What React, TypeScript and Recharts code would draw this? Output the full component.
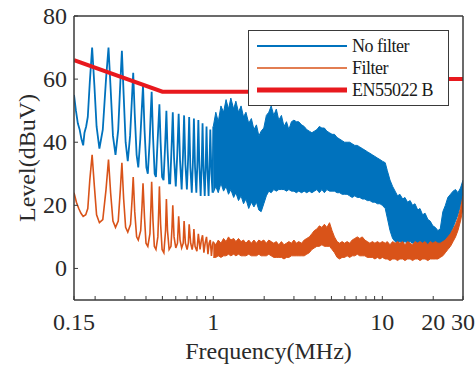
import { Area, ComposedChart, Label, Legend, Line, XAxis, YAxis } from 'recharts';

const xTicks = [0.15, 0.2, 0.3, 0.4, 0.5, 0.6, 0.7, 0.8, 0.9, 1, 2, 3, 4, 5, 6, 7, 8, 9, 10, 20, 30];
const xTickLabels = [0.15, 1, 10, 20, 30];
const yTicks = [0, 20, 40, 60, 80];

// EN55022 class B limit, [MHz, dBuV]
const limitLine: [number, number][] = [[0.15, 66], [0.5, 56], [5, 56], [5, 60], [30, 60]];

// low-frequency harmonics, [MHz, dBuV]
const noFilterPeaks: [number, number][] = [
  [0.15, 55], [0.154, 50], [0.158, 46], [0.162, 44], [0.166, 41], [0.17, 39], [0.173, 43], [0.177, 45], [0.181, 48], [0.186, 59],
  [0.192, 70], [0.198, 58], [0.204, 45], [0.212, 38], [0.222, 44], [0.232, 60], [0.24, 70], [0.247, 57], [0.255, 42], [0.264, 36],
  [0.274, 44], [0.282, 59], [0.288, 69], [0.295, 55], [0.303, 40], [0.312, 34], [0.322, 42], [0.331, 55], [0.336, 62], [0.343, 49],
  [0.352, 36], [0.36, 32], [0.37, 41], [0.378, 51], [0.384, 58], [0.392, 44], [0.402, 32], [0.41, 30], [0.42, 40], [0.427, 50],
  [0.432, 56], [0.44, 42], [0.45, 30], [0.458, 29], [0.468, 40], [0.475, 47], [0.48, 52], [0.488, 40], [0.498, 29], [0.508, 28],
  [0.518, 38], [0.524, 45], [0.528, 50], [0.536, 38], [0.548, 27], [0.556, 27], [0.568, 40], [0.576, 49.5], [0.586, 35], [0.6, 26],
  [0.612, 36], [0.624, 49], [0.636, 34], [0.65, 25], [0.662, 36], [0.672, 48.5], [0.684, 33], [0.698, 25], [0.71, 35], [0.72, 48],
  [0.732, 32], [0.746, 24], [0.758, 34], [0.768, 47.5], [0.78, 32], [0.794, 24], [0.806, 34], [0.816, 47], [0.828, 32], [0.842, 23],
  [0.854, 33], [0.864, 46], [0.876, 31], [0.89, 23], [0.902, 33], [0.912, 45], [0.924, 31], [0.938, 23], [0.95, 33], [0.96, 44],
  [0.975, 30], [0.99, 24], [1.0, 45],
];

const filterPeaks: [number, number][] = [
  [0.15, 24], [0.155, 21], [0.16, 19], [0.165, 17.5], [0.17, 16.5], [0.176, 17], [0.181, 19], [0.186, 28], [0.192, 36], [0.198, 26],
  [0.204, 17], [0.212, 14.5], [0.222, 15.5], [0.232, 25], [0.24, 34.5], [0.247, 24], [0.255, 15], [0.264, 13], [0.274, 15], [0.282, 25],
  [0.288, 33.5], [0.295, 22], [0.303, 13], [0.312, 11.5], [0.324, 14], [0.331, 22], [0.336, 29], [0.343, 18], [0.352, 10], [0.36, 9],
  [0.372, 12], [0.379, 20], [0.384, 27], [0.392, 16], [0.4, 8], [0.41, 7], [0.422, 11], [0.428, 20], [0.432, 27.5], [0.44, 15],
  [0.448, 7], [0.458, 6], [0.47, 10], [0.476, 19], [0.48, 26], [0.488, 14], [0.498, 6], [0.51, 5], [0.522, 12], [0.528, 22],
  [0.536, 12], [0.548, 6], [0.562, 7], [0.57, 13], [0.576, 20], [0.586, 10], [0.6, 6.5], [0.614, 8], [0.624, 16.5], [0.636, 9],
  [0.65, 6.5], [0.664, 8], [0.672, 15], [0.684, 8], [0.7, 6], [0.712, 8], [0.72, 14], [0.735, 8], [0.75, 6], [0.76, 8],
  [0.768, 12.5], [0.78, 7], [0.8, 5.5], [0.816, 11], [0.835, 6], [0.85, 9], [0.864, 10.5], [0.88, 5], [0.895, 8], [0.912, 10],
  [0.93, 4.5], [0.945, 8], [0.96, 9], [0.975, 4], [0.99, 7.5], [1.0, 8.5],
];

// dense broadband part, [MHz, low, high] in dBuV
const noFilterBand: [number, number, number][] = [
  [1.0, 24, 45], [1.035, 26, 49.5], [1.07, 24, 46.5], [1.11, 27, 51.5], [1.15, 24.5, 49.5], [1.19, 26, 53.5], [1.23, 23.5, 50.5], [1.27, 25, 54], [1.32, 22.5, 50.5], [1.36, 24, 53],
  [1.41, 21.5, 49.5], [1.46, 23, 51.5], [1.51, 20.5, 48], [1.56, 22, 49.5], [1.62, 19, 46], [1.68, 21, 47.5], [1.74, 19.5, 44], [1.8, 21, 45.5], [1.86, 18.5, 42], [1.92, 18, 43.5],
  [1.99, 20.5, 44.5], [2.06, 23, 48.5], [2.13, 24.5, 49.5], [2.2, 24, 51.5], [2.28, 25, 48.5], [2.36, 24.5, 50.5], [2.44, 25, 47], [2.53, 25, 48.5], [2.62, 25, 45], [2.71, 24.5, 46.5],
  [2.8, 25, 44], [2.9, 24.5, 46.5], [3.0, 24.5, 47], [3.1, 24, 46.5], [3.2, 24.5, 46.5], [3.33, 24, 45.5], [3.45, 24.5, 45], [3.57, 24, 44], [3.7, 24.5, 43.5], [3.83, 24, 43],
  [3.96, 24.5, 43.5], [4.1, 25, 44], [4.24, 24, 45], [4.39, 25, 44.5], [4.54, 24, 44.5], [4.7, 25, 43.5], [4.87, 24.5, 43], [5.04, 24.5, 42.5], [5.21, 24.5, 42.5], [5.4, 24, 41.5],
  [5.59, 24, 41], [5.78, 23.5, 40.5], [5.98, 23.5, 40], [6.19, 23.5, 40], [6.41, 23, 40], [6.63, 22.5, 39.5], [6.87, 23, 39], [7.11, 22.5, 39], [7.35, 22.5, 38.5], [7.61, 22, 38],
  [7.88, 22, 37.5], [8.15, 21.5, 37], [8.44, 21.5, 36.5], [8.73, 21, 36], [9.04, 21, 35.5], [9.35, 20.5, 35], [9.68, 20.5, 34.5], [10.0, 20, 34], [10.4, 19, 33.5], [10.7, 16, 31],
  [11.1, 12, 28], [11.5, 9.5, 26], [11.9, 8.5, 24.5], [12.3, 8, 23], [12.7, 8.5, 23.5], [13.2, 8, 22], [13.6, 8.5, 22.5], [14.1, 8, 21], [14.6, 8.5, 21.5], [15.1, 8, 20],
  [15.6, 8.5, 20.5], [16.2, 8, 18.5], [16.7, 8.5, 19], [17.3, 8, 17], [17.9, 8, 17.5], [18.6, 7.5, 15.5], [19.2, 8, 15], [19.9, 7.5, 13.5], [20.6, 7, 13], [21.3, 7, 12],
  [22.0, 7.5, 12.5], [22.8, 8, 18], [23.6, 9, 20], [24.4, 9.5, 22.5], [25.3, 11, 23.5], [26.2, 13, 24.5], [27.1, 15, 25], [28.0, 17, 24], [29.0, 20, 25.5], [30.0, 22, 28],
];

const filterBand: [number, number, number][] = [
  [1.0, 3.5, 8.5], [1.035, 3.5, 7.5], [1.07, 4, 9], [1.11, 3.5, 8], [1.15, 4, 9.5], [1.19, 4, 8.5], [1.23, 4.5, 10], [1.27, 4, 9], [1.32, 4.5, 9.5], [1.36, 4, 8.5],
  [1.41, 4.5, 9.5], [1.46, 4, 8.5], [1.51, 4, 9], [1.56, 4, 8], [1.62, 4.5, 9], [1.68, 4, 8], [1.74, 4, 9], [1.8, 4, 8], [1.86, 4.5, 9], [1.92, 4, 8.5],
  [1.99, 4, 9], [2.06, 4, 8], [2.13, 4.5, 9], [2.2, 4, 8.5], [2.28, 3.5, 8], [2.36, 3.5, 8.5], [2.44, 3.5, 7.5], [2.53, 3.5, 8.5], [2.62, 3, 7.5], [2.71, 3.5, 8],
  [2.8, 3.5, 8.5], [2.9, 4, 8], [3.0, 4, 9], [3.1, 4, 8], [3.2, 4, 8.5], [3.33, 4, 8], [3.45, 4, 9], [3.57, 4.5, 9.5], [3.7, 5, 10], [3.83, 6, 11],
  [3.96, 6.5, 12], [4.1, 7, 12.5], [4.24, 7, 13.5], [4.39, 7.5, 13], [4.54, 7, 14], [4.7, 7, 13], [4.87, 7, 14.5], [5.04, 6, 12], [5.21, 5, 10], [5.4, 3.5, 8.5],
  [5.59, 3, 8], [5.78, 3.5, 8.5], [5.98, 3.5, 8], [6.19, 4, 8.5], [6.41, 3.5, 8], [6.63, 4, 9], [6.87, 4, 9.5], [7.11, 4.5, 10], [7.35, 4, 9.5], [7.61, 4, 10],
  [7.88, 4, 9], [8.15, 3.5, 8.5], [8.44, 3.5, 8], [8.73, 3.5, 8.5], [9.04, 3, 8], [9.35, 3.5, 8.5], [9.68, 3, 8], [10.0, 3.5, 8.5], [10.4, 3, 8], [10.7, 3, 8.5],
  [11.1, 2.5, 7.5], [11.5, 3, 8.5], [11.9, 3, 8], [12.3, 2.5, 8.5], [12.7, 3, 8], [13.2, 3, 8.5], [13.6, 2.5, 7.5], [14.1, 3, 8.5], [14.6, 3, 8], [15.1, 2.5, 7.5],
  [15.6, 3, 8.5], [16.2, 3, 8], [16.7, 2.5, 8.5], [17.3, 3, 8], [17.9, 3, 8.5], [18.6, 2.5, 7.5], [19.2, 3, 8.5], [19.9, 3, 8], [20.6, 3, 8.5], [21.3, 3, 8],
  [22.0, 3.5, 8], [22.8, 4, 8.5], [23.6, 5, 9], [24.4, 6, 10], [25.3, 7, 11], [26.2, 8.5, 12.5], [27.1, 10, 14], [28.0, 12, 16], [29.0, 15, 19], [30.0, 19, 23],
];

const legendNames = ['No filter', 'Filter', 'EN55022 B'];

const BLUE = '#0072BD';
const ORANGE = '#D95319';
const RED = '#E8191E';
const AXIS = '#3a3a3a';
const TEXT = '#2a2a2a';
const FONT = 'Liberation Serif, Times New Roman, serif';

const toPoints = (rows: [number, number][]) => rows.map(([f, v]) => ({ f, v }));
const toBand = (rows: [number, number, number][]) => rows.map(([f, lo, hi]) => ({ f, range: [lo, hi] }));

const textStyle = { fontFamily: FONT, fontSize: 24, fill: TEXT };

function FreqTick({ x, y, payload }: any) {
  if (!xTickLabels.includes(payload.value)) return null;
  return (
    <text x={x} y={y} dy={17} textAnchor="middle" style={textStyle}>
      {payload.value}
    </text>
  );
}

function LevelTick({ x, y, payload }: any) {
  return (
    <text x={x} y={y} dy={8} textAnchor="end" style={textStyle}>
      {payload.value}
    </text>
  );
}

function FreqTitle({ viewBox }: any) {
  return (
    <text x={viewBox.x + viewBox.width / 2} y={viewBox.y + viewBox.height - 8} textAnchor="middle" style={textStyle}>
      Frequency(MHz)
    </text>
  );
}

function LevelTitle({ viewBox }: any) {
  const cx = 27;
  const cy = viewBox.y + viewBox.height / 2;
  return (
    <text x={cx} y={cy} dy={8} textAnchor="middle" transform={`rotate(-90 ${cx} ${cy})`} style={textStyle}>
      Level(dBuV)
    </text>
  );
}

function LegendBox() {
  const styles = [
    { color: BLUE, width: 2 },
    { color: ORANGE, width: 1.5 },
    { color: RED, width: 5 },
  ];
  return (
    <div
      style={{
        boxSizing: 'border-box',
        width: 201,
        height: 76,
        border: `1px solid ${AXIS}`,
        background: '#fff',
        padding: '4px 0 0 8px',
        fontFamily: FONT,
        fontSize: 18,
        color: '#1a1a1a',
      }}
    >
      {legendNames.map((name, i) => (
        <div key={name} style={{ display: 'flex', alignItems: 'center', height: 22 }}>
          <svg width={95} height={22}>
            <line x1={0} x2={90} y1={11} y2={11} stroke={styles[i].color} strokeWidth={styles[i].width} />
          </svg>
          <span style={{ lineHeight: '22px', letterSpacing: -0.5 }}>{name}</span>
        </div>
      ))}
    </div>
  );
}

export default function App() {
  const axisLine = { stroke: AXIS, strokeWidth: 1.5 };

  return (
    <div style={{ position: 'absolute', left: 0, top: 0, width: 476, height: 367, background: '#fff' }}>
      <ComposedChart width={476} height={367} margin={{ top: 0, right: 0, bottom: 0, left: 0 }}>
        <XAxis
          xAxisId="b"
          dataKey="f"
          type="number"
          scale="log"
          domain={[0.15, 30]}
          allowDataOverflow
          ticks={xTicks}
          interval={0}
          tick={<FreqTick />}
          tickSize={-4}
          tickMargin={17}
          axisLine={axisLine}
          tickLine={{ stroke: AXIS }}
          height={67}
        >
          <Label content={<FreqTitle />} />
        </XAxis>
        <XAxis
          xAxisId="t"
          orientation="top"
          type="number"
          scale="log"
          domain={[0.15, 30]}
          allowDataOverflow
          ticks={xTicks}
          interval={0}
          tick={false}
          tickSize={-4}
          axisLine={axisLine}
          tickLine={{ stroke: AXIS }}
          height={16}
        />
        <YAxis
          yAxisId="l"
          type="number"
          domain={[-10, 80]}
          allowDataOverflow
          ticks={yTicks}
          interval={0}
          tick={<LevelTick />}
          tickSize={-4}
          tickMargin={11}
          axisLine={axisLine}
          tickLine={{ stroke: AXIS }}
          width={74}
        >
          <Label content={<LevelTitle />} />
        </YAxis>
        <YAxis
          yAxisId="r"
          orientation="right"
          type="number"
          domain={[-10, 80]}
          allowDataOverflow
          ticks={yTicks}
          interval={0}
          tick={false}
          tickSize={-4}
          axisLine={axisLine}
          tickLine={{ stroke: AXIS }}
          width={13}
        />

        <Area
          xAxisId="b"
          yAxisId="l"
          data={toBand(noFilterBand)}
          dataKey="range"
          type="linear"
          stroke={BLUE}
          strokeWidth={1}
          fill={BLUE}
          fillOpacity={1}
          dot={false}
          activeDot={false}
          isAnimationActive={false}
        />
        <Line
          xAxisId="b"
          yAxisId="l"
          data={toPoints(noFilterPeaks)}
          dataKey="v"
          type="linear"
          stroke={BLUE}
          strokeWidth={1.8}
          dot={false}
          activeDot={false}
          isAnimationActive={false}
        />
        <Area
          xAxisId="b"
          yAxisId="l"
          data={toBand(filterBand)}
          dataKey="range"
          type="linear"
          stroke={ORANGE}
          strokeWidth={1}
          fill={ORANGE}
          fillOpacity={1}
          dot={false}
          activeDot={false}
          isAnimationActive={false}
        />
        <Line
          xAxisId="b"
          yAxisId="l"
          data={toPoints(filterPeaks)}
          dataKey="v"
          type="linear"
          stroke={ORANGE}
          strokeWidth={1.6}
          dot={false}
          activeDot={false}
          isAnimationActive={false}
        />
        <Line
          xAxisId="b"
          yAxisId="l"
          data={toPoints(limitLine)}
          dataKey="v"
          type="linear"
          stroke={RED}
          strokeWidth={4}
          dot={false}
          activeDot={false}
          isAnimationActive={false}
        />
        <Legend
          layout="vertical"
          align="center"
          verticalAlign="middle"
          content={() => <LegendBox />}
          wrapperStyle={{ top: 30, left: 248, width: 201, height: 76 }}
        />
      </ComposedChart>
    </div>
  );
}
